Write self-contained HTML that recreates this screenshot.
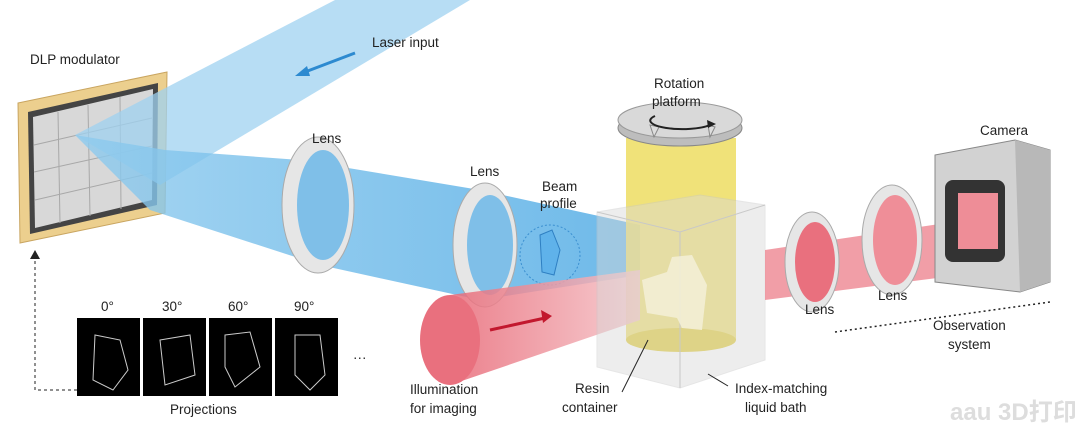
<!DOCTYPE html>
<html><head><meta charset="utf-8"><style>
body{margin:0;background:#fff;width:1080px;height:432px;overflow:hidden}
svg{display:block}
text{font-family:"Liberation Sans","Noto Sans CJK SC",sans-serif;font-size:13.5px;fill:#222}
</style></head><body>
<svg width="1080" height="432" viewBox="0 0 1080 432">
<defs>
<linearGradient id="blue" x1="0" x2="1"><stop offset="0" stop-color="#8fcbee"/><stop offset="1" stop-color="#4aa8e4"/></linearGradient>
<linearGradient id="red" x1="0" x2="1"><stop offset="0" stop-color="#e86a78"/><stop offset="1" stop-color="#f5c4c8"/></linearGradient>
</defs>
<!-- DLP frame -->
<polygon points="18,103 167,72 165,213 20,243" fill="#eccf8e" stroke="#c9a560"/>
<polygon points="28,112 158,83 157,205 30,234" fill="#444"/>
<polygon points="33,117 153,89 152,200 35,228" fill="#d8d8d8"/>
<g stroke="#a8a8a8" stroke-width="1" fill="none">
<path d="M34,145 L152,118 M34,172 L152,146 M35,200 L152,173 M58,112 L60,223 M88,105 L90,216 M120,97 L121,209"/>
</g>
<!-- laser input beam -->
<polygon points="335,0 470,0 160,185 75,135" fill="#9fd2f0" opacity="0.75"/>
<!-- beam from DLP to right -->
<polygon points="75,135 165,150 300,160 480,190 640,225 640,275 480,300 320,265 150,210" fill="url(#blue)" opacity="0.8"/>
<!-- lens 1 -->
<ellipse cx="318" cy="205" rx="36" ry="68" fill="#e6e6e6" stroke="#aaa"/>
<ellipse cx="323" cy="205" rx="26" ry="55" fill="#6cb7e8" opacity="0.85"/>
<!-- lens 2 -->
<ellipse cx="485" cy="245" rx="32" ry="62" fill="#e6e6e6" stroke="#aaa"/>
<ellipse cx="490" cy="245" rx="23" ry="50" fill="#6cb7e8" opacity="0.85"/>
<!-- beam profile -->
<circle cx="550" cy="255" r="30" fill="none" stroke="#3a8fd0" stroke-dasharray="2,2"/>
<path d="M540,235 l12,-5 l8,20 l-6,25 l-12,-3z" fill="#5fb2ea" stroke="#2e7fc2"/>
<!-- cylinder -->
<rect x="626" y="138" width="110" height="202" fill="#eedf6a" opacity="0.9"/>
<ellipse cx="681" cy="340" rx="55" ry="12" fill="#e3cf45"/>
<ellipse cx="680" cy="128" rx="62" ry="18" fill="#bdbdbd" stroke="#888"/>
<ellipse cx="680" cy="120" rx="62" ry="18" fill="#d9d9d9" stroke="#999"/>
<path d="M650,125 l4,12 l5,-10z M708,125 l2,12 l5,-10z" fill="#ddd" stroke="#888"/>
<path d="M655,116 A30,8 0 1 0 710,125" fill="none" stroke="#222" stroke-width="2"/>
<path d="M716,124 l-9,-4 l1,8z" fill="#222"/>
<!-- red imaging beam -->
<polygon points="450,295 640,270 640,320 450,385" fill="url(#red)" opacity="0.85"/>
<ellipse cx="450" cy="340" rx="30" ry="45" fill="#e9707e"/>
<line x1="490" y1="330" x2="545" y2="318" stroke="#c2182e" stroke-width="3"/>
<path d="M552,316 l-11,-6 l2,13z" fill="#c2182e"/>
<!-- container box -->
<polygon points="597,212 700,195 765,205 765,360 680,388 597,367" fill="#d8d8d8" opacity="0.45" stroke="#c8c8c8"/>
<polyline points="597,212 680,232 765,205" fill="none" stroke="#c8c8c8"/>
<line x1="680" y1="232" x2="680" y2="388" stroke="#c8c8c8"/>
<path d="M642,280 l25,-8 l5,-15 l20,-2 l15,30 l-5,45 l-20,-2 l-5,-10 l-30,-5z" fill="#f5f0d8" opacity="0.85"/>
<!-- red beam to camera -->
<polygon points="765,250 1000,215 1000,270 765,300" fill="#ec7e8a" opacity="0.75"/>
<ellipse cx="812" cy="262" rx="27" ry="50" fill="#e6e6e6" stroke="#aaa"/>
<ellipse cx="815" cy="262" rx="20" ry="40" fill="#e9707e"/>
<ellipse cx="892" cy="240" rx="30" ry="55" fill="#e6e6e6" stroke="#aaa"/>
<ellipse cx="895" cy="240" rx="22" ry="45" fill="#ef8e98"/>
<!-- camera -->
<polygon points="935,155 1015,140 1050,150 1050,282 1020,292 935,282" fill="#d2d2d2" stroke="#888"/>
<polygon points="1015,140 1050,150 1050,282 1020,292" fill="#b8b8b8"/>
<rect x="945" y="180" width="60" height="82" rx="8" fill="#333"/>
<rect x="958" y="193" width="40" height="56" fill="#ee8d97"/>
<!-- dotted line -->
<line x1="835" y1="332" x2="1050" y2="302" stroke="#222" stroke-dasharray="2,3" stroke-width="1.5"/>
<!-- projections -->
<g fill="#000"><rect x="77" y="318" width="63" height="78"/><rect x="143" y="318" width="63" height="78"/><rect x="209" y="318" width="63" height="78"/><rect x="275" y="318" width="63" height="78"/></g>
<g stroke="#ccc" fill="none" stroke-width="1">
<path d="M95,335 l25,5 l8,30 l-15,20 l-20,-10z"/><path d="M160,340 l30,-5 l5,40 l-30,10z"/><path d="M225,335 l25,-3 l10,35 l-25,20 l-10,-20z"/><path d="M295,335 l25,0 l5,40 l-15,15 l-15,-15z"/>
</g>
<text x="353" y="362">···</text>
<path d="M77,390 H35 V258" fill="none" stroke="#222" stroke-dasharray="3,3"/>
<path d="M35,250 l-5,9 h10z" fill="#222"/>
<!-- laser arrow -->
<line x1="355" y1="53" x2="305" y2="72" stroke="#2d8ad0" stroke-width="3"/>
<path d="M295,76 l12,-10 l3,10z" fill="#2d8ad0"/>
<!-- labels -->
<text x="30" y="64">DLP modulator</text>
<text x="372" y="47">Laser input</text>
<text x="312" y="143">Lens</text>
<text x="470" y="176">Lens</text>
<text x="542" y="191">Beam</text><text x="540" y="208">profile</text>
<text x="654" y="88">Rotation</text><text x="652" y="106">platform</text>
<text x="980" y="135">Camera</text>
<text x="805" y="314">Lens</text><text x="878" y="300">Lens</text>
<text x="933" y="330">Observation</text><text x="948" y="349">system</text>
<text x="410" y="394">Illumination</text><text x="410" y="413">for imaging</text>
<text x="575" y="393">Resin</text><text x="562" y="412">container</text>
<text x="735" y="393">Index-matching</text><text x="745" y="412">liquid bath</text>
<text x="101" y="311">0°</text><text x="162" y="311">30°</text><text x="228" y="311">60°</text><text x="294" y="311">90°</text>
<text x="170" y="414">Projections</text>
<line x1="648" y1="340" x2="622" y2="392" stroke="#222"/>
<line x1="708" y1="374" x2="728" y2="386" stroke="#222"/>
<text x="950" y="420" style="font-size:24px;fill:#ddd;font-weight:bold">aau 3D打印</text>
</svg>
</body></html>
